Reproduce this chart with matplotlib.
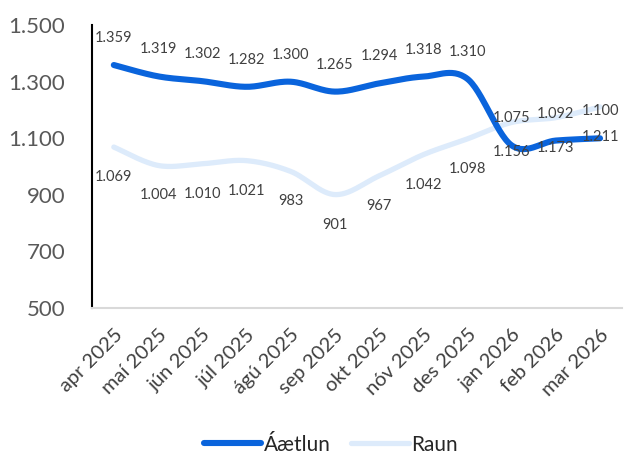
import numpy as np
import matplotlib
matplotlib.use("Agg")
import matplotlib.pyplot as plt
from matplotlib.ticker import FuncFormatter

months = ["apr 2025", "maí 2025", "jún 2025", "júl 2025", "ágú 2025", "sep 2025",
          "okt 2025", "nóv 2025", "des 2025", "jan 2026", "feb 2026", "mar 2026"]
aaetlun = [1359, 1319, 1302, 1282, 1300, 1265, 1294, 1318, 1310, 1075, 1092, 1100]
raun = [1069, 1004, 1010, 1021, 983, 901, 967, 1042, 1098, 1156, 1173, 1211]
yticks = [500, 700, 900, 1100, 1300, 1500]

plt.rcParams['font.family'] = ['Lato', 'DejaVu Sans']

def fmt(v):
    return f"{int(v):,}".replace(",", ".")

def smooth(x, y, n=30):
    x = np.asarray(x, float); y = np.asarray(y, float)
    xs, ys = [], []
    for i in range(len(x) - 1):
        p0 = np.array([x[i], y[i]]); p3 = np.array([x[i+1], y[i+1]])
        pm = np.array([x[i-1], y[i-1]]) if i > 0 else p0
        pp = np.array([x[i+2], y[i+2]]) if i + 2 < len(x) else p3
        c1 = p0 + (p3 - pm) / 6.0
        c2 = p3 - (pp - p0) / 6.0
        t = np.linspace(0, 1, n)[:, None]
        b = ((1-t)**3)*p0 + 3*((1-t)**2)*t*c1 + 3*(1-t)*t**2*c2 + t**3*p3
        if i > 0:
            b = b[1:]
        xs.append(b[:, 0]); ys.append(b[:, 1])
    return np.concatenate(xs), np.concatenate(ys)

fig = plt.figure(figsize=(6.24, 4.57), dpi=100)
ax = fig.add_axes([0.147, 0.326, 0.85, 0.619])

x = np.arange(len(months))
dark = "#0A64DC"
light = "#DDEBFB"

sx, sy = smooth(x, raun)
ax.plot(sx, sy, color=light, lw=3.8, solid_capstyle='round', label="Raun", zorder=2)
sx, sy = smooth(x, aaetlun)
ax.plot(sx, sy, color=dark, lw=4.4, solid_capstyle='round', label="Áætlun", zorder=3)

for xi, v in zip(x, aaetlun):
    ax.annotate(fmt(v), (xi, v), xytext=(0, 27), textcoords='offset pixels',
                ha='center', va='center', fontsize=10.5, color='#404040', zorder=5)
for xi, v in zip(x, raun):
    ax.annotate(fmt(v), (xi, v), xytext=(0, -30), textcoords='offset pixels',
                ha='center', va='center', fontsize=10.5, color='#404040', zorder=5)

ax.set_xlim(-0.5, len(months) - 0.5)
ax.set_ylim(500, 1500)
ax.set_yticks(yticks)
ax.yaxis.set_major_formatter(FuncFormatter(lambda v, p: fmt(v)))
ax.set_xticks(x)
ax.set_xticklabels(months, rotation=45, ha='right', rotation_mode='anchor')
ax.tick_params(axis='y', length=0, labelsize=16, labelcolor='#595959', pad=19)
ax.tick_params(axis='x', length=0, labelsize=14.5, labelcolor='#404040', pad=13)

for s in ['top', 'right']:
    ax.spines[s].set_visible(False)
ax.spines['left'].set_color('black')
ax.spines['left'].set_linewidth(1.5)
ax.spines['bottom'].set_color('#D9D9D9')
ax.spines['bottom'].set_linewidth(1.5)

h, l = ax.get_legend_handles_labels()
fig.legend([h[1], h[0]], [l[1], l[0]], loc='center', bbox_to_anchor=(0.53, 0.027),
           ncol=2, frameon=False, fontsize=15, handlelength=2.75, handletextpad=0.12,
           columnspacing=1.0, labelcolor='#262626', borderpad=0.2)

fig.savefig("out.png", dpi=100)
